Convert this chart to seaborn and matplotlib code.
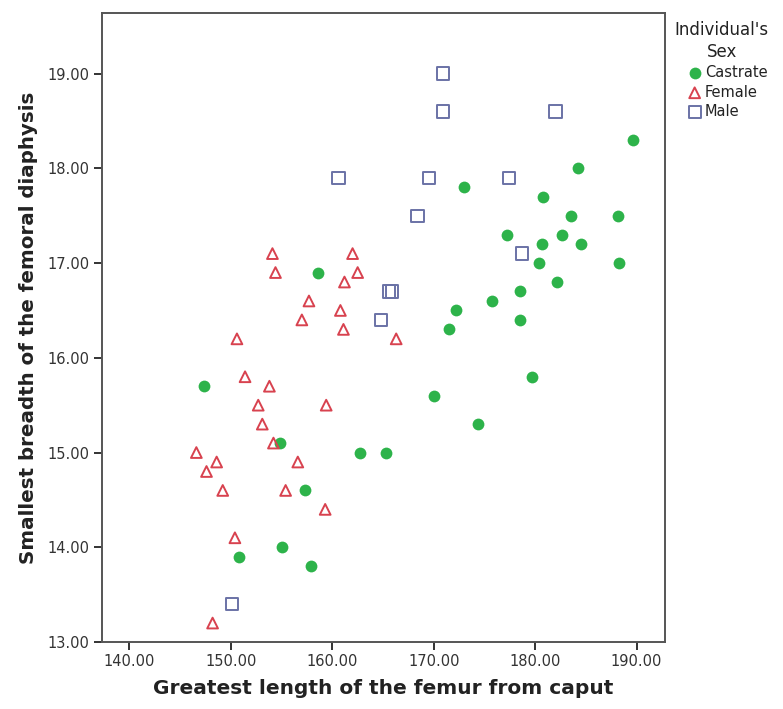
import matplotlib
matplotlib.use("Agg")
import matplotlib.pyplot as plt
import seaborn as sns
import pandas as pd

# Femur measurements by sex group
castrate_length = [189.6, 184.2, 173.0, 180.8, 183.5, 188.2, 177.2, 182.6, 180.7, 184.5,
                   180.4, 188.3, 182.2, 178.5, 175.7, 172.2, 178.5, 171.5, 158.6, 179.7,
                   170.0, 174.4, 162.7, 165.3, 147.4, 154.8, 157.3, 155.0, 150.8, 157.9]
castrate_breadth = [18.3, 18.0, 17.8, 17.7, 17.5, 17.5, 17.3, 17.3, 17.2, 17.2,
                    17.0, 17.0, 16.8, 16.7, 16.6, 16.5, 16.4, 16.3, 16.9, 15.8,
                    15.6, 15.3, 15.0, 15.0, 15.7, 15.1, 14.6, 14.0, 13.9, 13.8]

female_length = [154.1, 162.0, 154.4, 162.5, 161.2, 157.7, 160.8, 157.0, 161.1, 166.3,
                 150.6, 151.4, 153.8, 152.7, 159.4, 153.1, 154.2, 146.6, 148.6, 156.6,
                 147.6, 149.2, 155.4, 159.3, 150.4, 148.2]
female_breadth = [17.1, 17.1, 16.9, 16.9, 16.8, 16.6, 16.5, 16.4, 16.3, 16.2,
                  16.2, 15.8, 15.7, 15.5, 15.5, 15.3, 15.1, 15.0, 14.9, 14.9,
                  14.8, 14.6, 14.6, 14.4, 14.1, 13.2]

male_length = [170.9, 170.9, 182.0, 160.6, 169.5, 177.4, 168.4, 178.7, 165.6, 165.9,
               164.8, 150.1]
male_breadth = [19.0, 18.6, 18.6, 17.9, 17.9, 17.9, 17.5, 17.1, 16.7, 16.7,
                16.4, 13.4]

x_ticks = [140, 150, 160, 170, 180, 190]
y_ticks = [13, 14, 15, 16, 17, 18, 19]

df = pd.concat([
    pd.DataFrame({"length": castrate_length, "breadth": castrate_breadth, "sex": "Castrate"}),
    pd.DataFrame({"length": female_length, "breadth": female_breadth, "sex": "Female"}),
    pd.DataFrame({"length": male_length, "breadth": male_breadth, "sex": "Male"}),
], ignore_index=True)

sns.set_theme(style="white")
plt.rcParams["font.family"] = ["DejaVu Sans"]

fig = plt.figure(figsize=(7.83, 7.09), dpi=100)
ax = fig.add_axes([0.1303, 0.0945, 0.7190, 0.8872])

styles = {
    "Castrate": dict(marker="o", s=72, color="#2DB34A", linewidth=0),
    "Female": dict(marker="^", s=60, facecolors="none", edgecolors="#D8424F", linewidth=1.4),
    "Male": dict(marker="s", s=78, facecolors="none", edgecolors="#6A72A6", linewidth=1.4),
}
for sex, kw in styles.items():
    sub = df[df["sex"] == sex]
    sns.scatterplot(data=sub, x="length", y="breadth", ax=ax, label=sex, legend=False, **kw)

ax.set_xlim(137.3, 192.8)
ax.set_ylim(13.0, 19.64)
ax.set_xticks(x_ticks)
ax.set_yticks(y_ticks)
ax.set_xticklabels([f"{v:.2f}" for v in x_ticks])
ax.set_yticklabels([f"{v:.2f}" for v in y_ticks])

for side in ["left", "right", "top", "bottom"]:
    ax.spines[side].set_color("#555555")
    ax.spines[side].set_linewidth(1.4)
ax.tick_params(axis="both", which="major", direction="out", length=6, width=1.4,
               color="#333333", labelsize=10.5, labelcolor="#333333", pad=3)
ax.tick_params(axis="x", bottom=True, top=False)
ax.tick_params(axis="y", left=True, right=False)

ax.set_xlabel("Greatest length of the femur from caput", fontsize=14.5,
              fontweight="bold", color="#222222", labelpad=7)
ax.set_ylabel("Smallest breadth of the femoral diaphysis", fontsize=14.3,
              fontweight="bold", color="#222222", labelpad=7)

# Legend: centred two-line title above the entries
fig.text(0.922, 0.970, "Individual's\nSex", ha="center", va="top", fontsize=12,
         color="#222222", linespacing=1.25)
handles, labels = ax.get_legend_handles_labels()
leg = fig.legend(handles, labels, loc="upper left",
                 bbox_to_anchor=(0.876, 0.908), frameon=False, fontsize=10.5,
                 handletextpad=0.1, labelspacing=0.3, handlelength=1.2,
                 borderaxespad=0, borderpad=0)
for t in leg.get_texts():
    t.set_color("#222222")

fig.savefig("out.png", dpi=100)
